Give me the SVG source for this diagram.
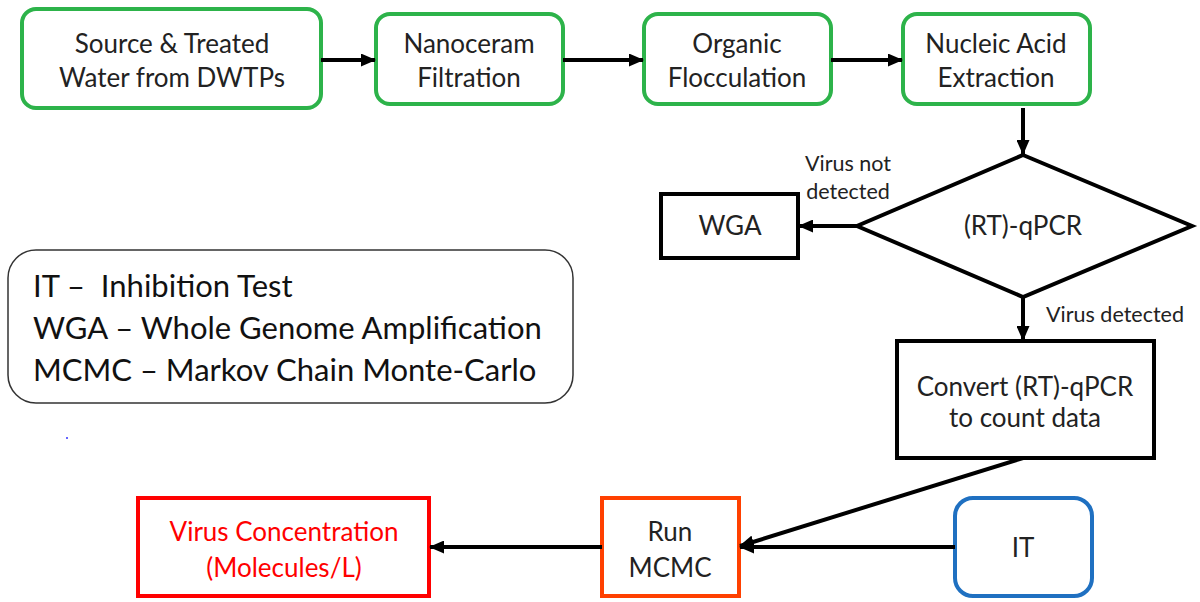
<svg xmlns="http://www.w3.org/2000/svg" width="1200" height="602" viewBox="0 0 1200 602">
<defs>
<marker id="ah" markerWidth="15" markerHeight="13" refX="14" refY="6.5" orient="auto" markerUnits="userSpaceOnUse" viewBox="0 0 15 13">
<path d="M0,0 L15,6.5 L0,13 z" fill="#000"/>
</marker>
<style>
.g{fill:#fff;stroke:#2db34a;stroke-width:4}
.k{fill:#fff;stroke:#000;stroke-width:4}
.t{font-family:Lato,"Liberation Sans",sans-serif;font-size:26px;fill:#222;text-anchor:middle}
.s{font-family:Lato,"Liberation Sans",sans-serif;font-size:21.5px;fill:#222}
.l{font-family:Lato,"Liberation Sans",sans-serif;font-size:31px;fill:#111}
.c line{stroke:#000;stroke-width:4;marker-end:url(#ah)}
</style>
</defs>
<rect width="1200" height="602" fill="#fff"/>
<g id="source"><rect class="g" x="22" y="9" width="299" height="99" rx="14"/><text class="t" x="172" y="53">Source &amp; Treated</text><text class="t" x="172" y="87">Water from DWTPs</text></g>
<g id="nanoceram"><rect class="g" x="376" y="14" width="187" height="90" rx="14"/><text class="t" x="469" y="53">Nanoceram</text><text class="t" x="469" y="87">Filtration</text></g>
<g id="organic"><rect class="g" x="644" y="14" width="187" height="90" rx="14"/><text class="t" x="737" y="53">Organic</text><text class="t" x="737" y="87">Flocculation</text></g>
<g id="nucleic"><rect class="g" x="903" y="14" width="187" height="90" rx="14"/><text class="t" x="996" y="53">Nucleic Acid</text><text class="t" x="996" y="87">Extraction</text></g>
<g id="qpcr"><polygon class="k" points="1023,155 1192,226 1023,297 857,226"/><text class="t" x="1023" y="235">(RT)-qPCR</text></g>
<g id="wga"><rect class="k" x="661" y="194" width="137" height="64"/><text class="t" x="730" y="235">WGA</text></g>
<g id="convert"><rect class="k" x="897" y="341" width="257" height="117"/><text class="t" x="1025" y="396">Convert (RT)-qPCR</text><text class="t" x="1025" y="427">to count data</text></g>
<g id="mcmc"><rect x="602" y="498" width="137" height="98" fill="#fff" stroke="#ff4000" stroke-width="4"/><text class="t" x="670" y="541">Run</text><text class="t" x="670" y="577">MCMC</text></g>
<g id="it"><rect x="955" y="498" width="137" height="98" rx="18" fill="#fff" stroke="#1f70c1" stroke-width="4"/><text class="t" x="1023" y="557">IT</text></g>
<g id="virusconc"><rect x="138" y="498" width="291" height="98" fill="#fff" stroke="#ff0000" stroke-width="4"/><text class="t" x="284" y="541" style="fill:#ff0000">Virus Concentration</text><text class="t" x="284" y="577" style="fill:#ff0000">(Molecules/L)</text></g>
<g id="legend"><rect x="8" y="250" width="565" height="153" rx="28" fill="#fff" stroke="#333" stroke-width="1.5"/><text class="l" x="33" y="297" xml:space="preserve">IT –  Inhibition Test</text><text class="l" x="33" y="339">WGA – Whole Genome Amplification</text><text class="l" x="33" y="381">MCMC – Markov Chain Monte-Carlo</text></g>
<circle cx="67" cy="438" r="1" fill="#33f"/>
<g id="connectors" class="c">
<line x1="321" y1="60" x2="375" y2="60"/>
<line x1="563" y1="60" x2="643" y2="60"/>
<line x1="831" y1="60" x2="902" y2="60"/>
<line x1="1023" y1="108" x2="1023" y2="154"/>
<line x1="857" y1="226" x2="799" y2="226"/>
<line x1="1023" y1="297" x2="1023" y2="340"/>
<line x1="1023" y1="458" x2="740" y2="546"/>
<line x1="955" y1="547" x2="740" y2="547"/>
<line x1="602" y1="547" x2="430" y2="547"/>
</g>
<g id="labels"><text class="s" x="848" y="171" text-anchor="middle">Virus not</text><text class="s" x="848" y="199" text-anchor="middle">detected</text><text class="s" x="1046" y="322">Virus detected</text></g>
</svg>
